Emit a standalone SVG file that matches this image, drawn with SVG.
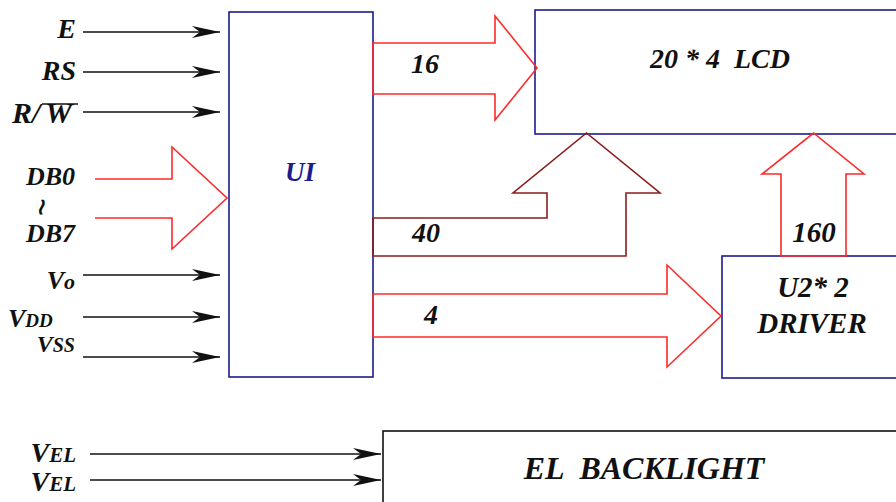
<svg xmlns="http://www.w3.org/2000/svg" width="896" height="502" viewBox="0 0 896 502">
<defs>
<marker id="ah" markerUnits="userSpaceOnUse" viewBox="0 0 28 12" refX="28" refY="6" markerWidth="28" markerHeight="12" orient="auto">
<path d="M0,0 L28,6 L0,12 L8,6 Z" fill="#111"/>
</marker>
<style>
.t{font-family:"Liberation Serif",serif;font-weight:bold;font-style:italic;fill:#111}
.box{fill:none;stroke:#1c1c8c;stroke-width:1.6}
.sig{stroke:#111;stroke-width:1.6;fill:none;marker-end:url(#ah)}
.bus{fill:none;stroke:#ff2a2a;stroke-width:1.6}
.bus2{fill:none;stroke:#8b1c1c;stroke-width:1.6}
</style>
</defs>
<rect width="896" height="502" fill="#fff"/>

<g id="connectors">
<line class="sig" x1="83" y1="32" x2="220" y2="32"/>
<line class="sig" x1="83" y1="72" x2="220" y2="72"/>
<line class="sig" x1="83" y1="112" x2="220" y2="112"/>
<line class="sig" x1="83" y1="275" x2="220" y2="275"/>
<line class="sig" x1="83" y1="317" x2="220" y2="317"/>
<line class="sig" x1="83" y1="357" x2="220" y2="357"/>
<line class="sig" x1="90" y1="454" x2="381" y2="454"/>
<line class="sig" x1="90" y1="480" x2="381" y2="480"/>
<path class="bus" d="M95,179 H172 V147 L227,198 L172,249 V218 H95"/>
</g>

<g id="U1">
<rect class="box" x="229" y="12" width="144" height="365"/>
<text class="t" x="300" y="181" font-size="27" text-anchor="middle" style="fill:#1c1c8c">UI</text>
</g>

<g id="LCD">
<rect class="box" x="535" y="10" width="420" height="124"/>
<text class="t" x="720" y="68" font-size="28" text-anchor="middle" xml:space="preserve">20 * 4  LCD</text>
</g>

<g id="DRIVER">
<rect class="box" x="722" y="256" width="220" height="122"/>
<text class="t" x="813" y="297" font-size="29" text-anchor="middle">U2* 2</text>
<text class="t" x="812" y="333" font-size="29" text-anchor="middle">DRIVER</text>
</g>

<g id="EL">
<rect x="383" y="431" width="600" height="120" fill="none" stroke="#111" stroke-width="1.6"/>
<text class="t" x="644" y="479" font-size="32" text-anchor="middle" xml:space="preserve">EL  BACKLIGHT</text>
</g>

<g id="buses">
<polygon class="bus" points="373,43 495,43 495,16 537,68 495,120 495,94 373,94"/>
<polygon class="bus2" points="373,218 547,218 547,193 513,193 586.5,133 660,193 626,193 626,256 373,256"/>
<polygon class="bus" points="373,294 667,294 667,265 721,316 667,367 667,337 373,337"/>
<polygon class="bus" points="781,256 781,174 762,174 813.5,133 864,174 846,174 846,256"/>
<text class="t" x="425" y="73" font-size="28" text-anchor="middle">16</text>
<text class="t" x="426" y="242" font-size="28" text-anchor="middle">40</text>
<text class="t" x="431" y="324" font-size="28" text-anchor="middle">4</text>
<text class="t" x="814" y="242" font-size="29" text-anchor="middle">160</text>
</g>

<g id="labels">
<text class="t" x="76" y="38" font-size="28" text-anchor="end">E</text>
<text class="t" x="76" y="80" font-size="28" text-anchor="end">RS</text>
<text class="t" x="12" y="123" font-size="30">R/<tspan dx="5">W</tspan></text>
<line x1="42" y1="104" x2="78" y2="104" stroke="#111" stroke-width="1.6"/>
<text class="t" x="75" y="185" font-size="26" text-anchor="end">DB0</text>
<text class="t" x="40" y="214" font-size="22" text-anchor="middle">≀</text>
<text class="t" x="75" y="242" font-size="26" text-anchor="end">DB7</text>
<text class="t" x="75" y="289" font-size="26" text-anchor="end">V<tspan font-size="22">o</tspan></text>
<text class="t" x="8" y="327" font-size="26">V<tspan font-size="19">DD</tspan></text>
<text class="t" x="75" y="352" font-size="24" text-anchor="end">V<tspan font-size="20">SS</tspan></text>
<text class="t" x="76" y="462" font-size="28" text-anchor="end">V<tspan font-size="21">EL</tspan></text>
<text class="t" x="76" y="491" font-size="28" text-anchor="end">V<tspan font-size="21">EL</tspan></text>
</g>
</svg>
